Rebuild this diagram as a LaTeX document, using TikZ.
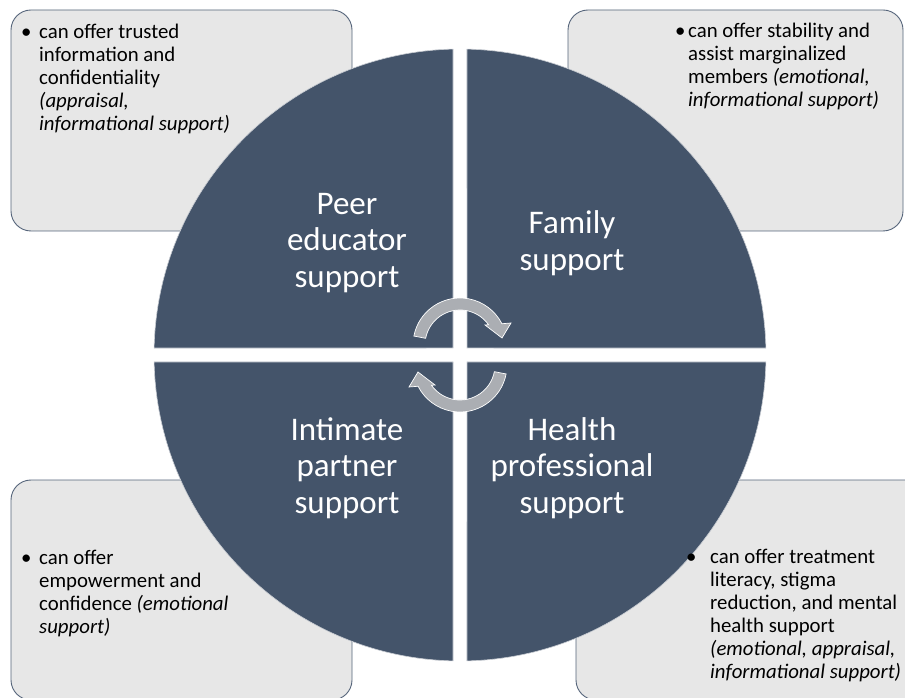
\documentclass[tikz,border=0pt]{standalone}
\usepackage{fontspec}
\setmainfont{Carlito}

\definecolor{slate}{HTML}{44546A}
\definecolor{boxfill}{HTML}{E7E7E7}
\definecolor{boxline}{HTML}{56657B}
\definecolor{arrowgray}{HTML}{ABAEB3}
\definecolor{rimgray}{HTML}{C9CDD3}

\tikzset{
  notebox/.style={fill=boxfill, draw=boxline, line width=0.9pt, rounded corners=20pt},
  quadrant/.style={fill=slate, draw=rimgray, line width=0.6pt},
  quadlabel/.style={text=white, align=center, inner sep=0pt,
                    font=\fontsize{33}{36.5}\selectfont},
  notetext/.style={anchor=north west, inner sep=0pt,
                   font=\fontsize{20.8}{23}\selectfont},
  cyclearrow/.style={fill=arrowgray, draw=white, line width=0.7pt},
}

\begin{document}
\begin{tikzpicture}[x=1pt, y=1pt]
  \clip (0,0) rectangle (905,697);
  \fill[white] (0,0) rectangle (905,697);

  % corner note boxes (behind the circle)
  \draw[notebox] (11,466) rectangle (352,687);
  \draw[notebox] (568,466) rectangle (903,687);
  \draw[notebox] (11,-3) rectangle (352,217);
  \draw[notebox] (576,-3) rectangle (930,217);

  % four quadrants of the support circle, separated by a white cross
  \draw[quadrant] (453,349) -- ([shift={(460,342)}]91.31:306)
      arc[start angle=91.31, end angle=178.69, radius=306] -- cycle;
  \draw[quadrant] (467,349) -- ([shift={(460,342)}]1.31:306)
      arc[start angle=1.31, end angle=88.69, radius=306] -- cycle;
  \draw[quadrant] (453,335) -- ([shift={(460,342)}]181.31:306)
      arc[start angle=181.31, end angle=268.69, radius=306] -- cycle;
  \draw[quadrant] (467,335) -- ([shift={(460,342)}]271.31:306)
      arc[start angle=271.31, end angle=358.69, radius=306] -- cycle;

  % quadrant labels
  \node[quadlabel] (peer)    at (347,454) {Peer\\educator\\support};
  \node[quadlabel] (family)  at (572,454) {Family\\support};
  \node[quadlabel] (partner) at (347,229) {Intimate\\partner\\support};
  \node[quadlabel] (health)  at (572,229) {Health\\professional\\support};

  % circular arrows in the middle
  \begin{scope}[shift={(460,352)}]
    \filldraw[cyclearrow] (169:47) arc[start angle=169, end angle=26.9, radius=47]
      -- (51,22) -- (42,7) -- (25,20) -- (35.4:35)
      arc[start angle=35.4, end angle=169, radius=35] -- cycle;
  \end{scope}
  \begin{scope}[rotate around={180:(460,342)}, shift={(460,352)}]
    \filldraw[cyclearrow] (169:47) arc[start angle=169, end angle=26.9, radius=47]
      -- (51,22) -- (42,7) -- (25,20) -- (35.4:35)
      arc[start angle=35.4, end angle=169, radius=35] -- cycle;
  \end{scope}

  % bullet notes
  \node[notetext] (peernote) at (21,674.8) {%
    \begin{tabular}{@{}p{18pt}@{}l@{}}
      \textbullet & can offer trusted\\
      & information and\\
      & confidentiality\\
      & \textit{(appraisal,}\\
      & \textit{informational support)}
    \end{tabular}};
  \node[notetext] (familynote) at (675,675.8) {%
    \begin{tabular}{@{}p{13pt}@{}l@{}}
      \textbullet & can offer stability and\\
      & assist marginalized\\
      & members \textit{(emotional,}\\
      & \textit{informational support)}
    \end{tabular}};
  \node[notetext] (partnernote) at (21,149.1) {%
    \begin{tabular}{@{}p{18pt}@{}l@{}}
      \textbullet & can offer\\
      & empowerment and\\
      & confidence \textit{(emotional}\\
      & \textit{support)}
    \end{tabular}};
  \node[notetext] (healthnote) at (686,150.1) {%
    \begin{tabular}{@{}p{24pt}@{}l@{}}
      \textbullet & can offer treatment\\
      & literacy, stigma\\
      & reduction, and mental\\
      & health support\\
      & \textit{(emotional, appraisal,}\\
      & \textit{informational support)}
    \end{tabular}};
\end{tikzpicture}
\end{document}
